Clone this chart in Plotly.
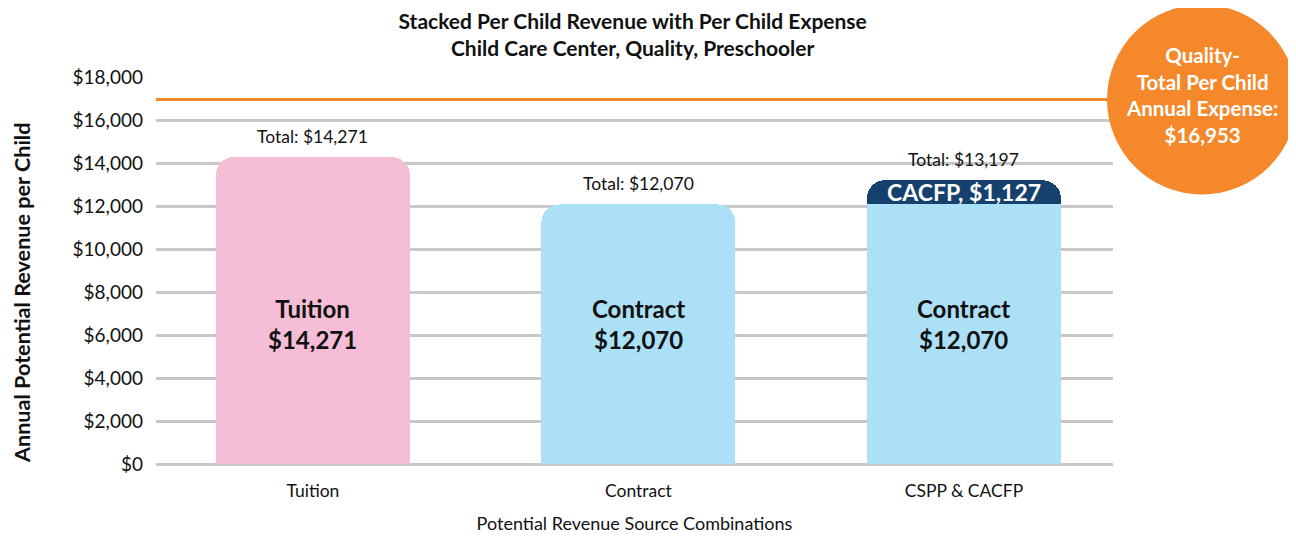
import plotly.graph_objects as go

categories = ["Tuition", "Contract", "CSPP & CACFP"]
base_labels = ["Tuition", "Contract", "Contract"]
base_values = [14271, 12070, 12070]
cacfp_values = [None, None, 1127]
totals = [14271, 12070, 13197]
expense = 16953
y_ticks = [0, 2000, 4000, 6000, 8000, 10000, 12000, 14000, 16000, 18000]
y_max = 18000

FONT = "Lato"
pink, blue, navy, orange = "#f6bdd7", "#abe0f7", "#16416f", "#f5882a"

fig = go.Figure()
fig.add_trace(go.Bar(
    x=categories, y=base_values, width=0.596,
    marker=dict(color=[pink, blue, blue], line=dict(width=0)),
    hoverinfo="skip", showlegend=False,
))
fig.add_trace(go.Bar(
    x=categories, y=cacfp_values, width=0.596,
    marker=dict(color=navy, line=dict(width=0)),
    hoverinfo="skip", showlegend=False,
))

annotations = []
for cat, lab, val, tot in zip(categories, base_labels, base_values, totals):
    annotations.append(dict(
        x=cat, y=6500, xref="x", yref="y", showarrow=False,
        text=f"<b>{lab}<br>${val:,}</b>",
        font=dict(family=FONT, size=24, color="#111111"),
    ))
    annotations.append(dict(
        x=cat, y=tot, xref="x", yref="y", showarrow=False, yshift=21,
        text=f"Total: ${tot:,}",
        font=dict(family=FONT, size=17.5, color="#111111"),
    ))
for cat, base, add in zip(categories, base_values, cacfp_values):
    if add:
        annotations.append(dict(
            x=cat, y=base + add / 2, xref="x", yref="y", showarrow=False,
            text=f"<b>CACFP, ${add:,}</b>",
            font=dict(family=FONT, size=23, color="white"),
        ))

exp_paper = expense / y_max
annotations.append(dict(
    x=1.093, y=exp_paper, xref="paper", yref="paper", showarrow=False,
    xanchor="center", yanchor="middle", yshift=5,
    text=f"<b>Quality-<br>Total Per Child<br>Annual Expense:<br>${expense:,}</b>",
    font=dict(family=FONT, size=20.5, color="white"), align="center",
))
annotations.append(dict(
    x=-0.140, y=0.442, xref="paper", yref="paper", showarrow=False, textangle=-90,
    xanchor="center", yanchor="middle",
    text="<b>Annual Potential Revenue per Child</b>",
    font=dict(family=FONT, size=21.6, color="#111111"),
))

shapes = [
    dict(type="line", xref="paper", yref="paper", x0=0, x1=1.0, y0=exp_paper, y1=exp_paper,
         line=dict(color=orange, width=3), layer="above"),
    dict(type="circle", xref="paper", yref="paper", xsizemode="pixel", ysizemode="pixel",
         xanchor=1.093, yanchor=exp_paper, x0=-95, x1=95, y0=-95, y1=95,
         fillcolor=orange, line=dict(width=0), layer="above"),
]

fig.update_layout(
    width=1296, height=538,
    margin=dict(l=148, r=191, t=69, b=82),
    paper_bgcolor="white", plot_bgcolor="white",
    barmode="stack", barcornerradius=18,
    title=dict(
        text="<b>Stacked Per Child Revenue with Per Child Expense<br>Child Care Center, Quality, Preschooler</b>",
        x=0.482, xanchor="center", y=0.961, yanchor="top",
        font=dict(family=FONT, size=21, color="#111111"),
    ),
    xaxis=dict(
        range=[-0.482, 2.458], showgrid=False, zeroline=False, showline=False,
        tickfont=dict(family=FONT, size=17.5, color="#111111"), ticks="",
        ticklabelstandoff=14,
        title=dict(text="Potential Revenue Source Combinations",
                   font=dict(family=FONT, size=18, color="#111111"), standoff=17),
    ),
    yaxis=dict(
        range=[0, y_max], tickvals=y_ticks,
        ticktext=[f"${v:,}" for v in y_ticks],
        showgrid=True, gridcolor="#c8c8c8", gridwidth=2.5,
        zeroline=True, zerolinecolor="#c8c8c8", zerolinewidth=2.5,
        tickfont=dict(family=FONT, size=19, color="#111111"), ticks="",
        ticklabelstandoff=12,
    ),
    annotations=annotations, shapes=shapes,
)

fig.write_html("out.html")
